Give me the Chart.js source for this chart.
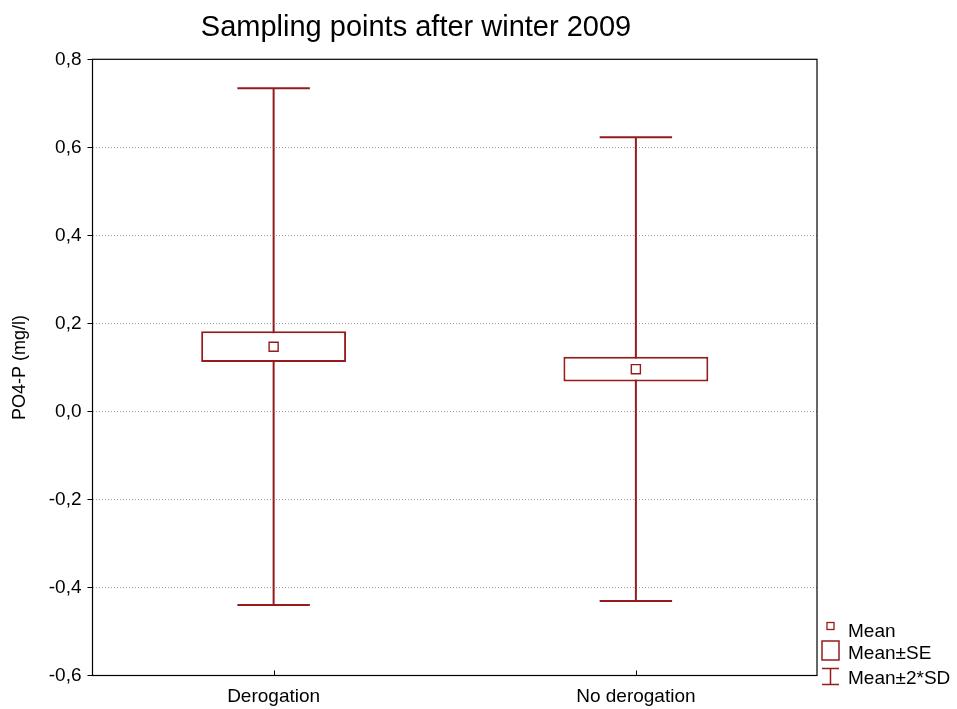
<!DOCTYPE html>
<html>
<head>
<meta charset="utf-8">
<title>Sampling points after winter 2009</title>
<script src="https://cdn.jsdelivr.net/npm/chart.js@4.4.1/dist/chart.umd.min.js"></script>
<style>
  html, body { margin: 0; padding: 0; background: #fff; }
  canvas { display: block; }
</style>
</head>
<body>
<canvas id="chart" width="957" height="709"></canvas>
<script>
// Groups and per-group statistics of PO4-P (mg/l)
const categories = ['Derogation', 'No derogation'];
const means = [0.147, 0.096];
const stdErr = [0.035, 0.028];
const twoSd = [0.587, 0.527];

// Value axis
const yMin = -0.6;
const yMax = 0.8;
const yStep = 0.2;

const titleText = 'Sampling points after winter 2009';
const yTitle = 'PO4-P (mg/l)';
const legendLabels = ['Mean', 'Mean\u00B1SE', 'Mean\u00B12*SD'];

const RED = '#951c1c';
const FONT = '"Liberation Sans", Arial, Helvetica, sans-serif';

// Mean ± SE boxes as floating bars
const seBoxes = categories.map((c, i) => [means[i] - stdErr[i], means[i] + stdErr[i]]);

const isEdge = v => Math.abs(v - yMin) < 1e-9 || Math.abs(v - yMax) < 1e-9;

// Whiskers (mean ± 2*SD) drawn underneath the boxes
const whiskers = {
  id: 'whiskers',
  beforeDatasetsDraw(chart) {
    const { ctx, scales: { x, y } } = chart;
    const boxes = chart.getDatasetMeta(0).data;
    ctx.save();
    ctx.strokeStyle = RED;
    ctx.lineWidth = 2;
    ctx.setLineDash([]);
    categories.forEach((c, i) => {
      const px = x.getPixelForValue(i);
      const top = y.getPixelForValue(means[i] + twoSd[i]);
      const bot = y.getPixelForValue(means[i] - twoSd[i]);
      const half = boxes[i].width / 4;
      ctx.beginPath();
      ctx.moveTo(px, top); ctx.lineTo(px, bot);
      ctx.moveTo(px - half, top); ctx.lineTo(px + half, top);
      ctx.moveTo(px - half, bot); ctx.lineTo(px + half, bot);
      ctx.stroke();
    });
    ctx.restore();
  }
};

// Plot frame, category ticks, title and legend
const decorations = {
  id: 'decorations',
  afterDraw(chart) {
    const { ctx, chartArea: a, scales: { x } } = chart;
    ctx.save();
    ctx.setLineDash([]);
    ctx.strokeStyle = '#000';
    ctx.lineWidth = 1.2;
    ctx.strokeRect(a.left, a.top, a.right - a.left, a.bottom - a.top);

    ctx.lineWidth = 1;
    categories.forEach((c, i) => {
      const px = Math.round(x.getPixelForValue(i)) + 0.5;
      ctx.beginPath();
      ctx.moveTo(px, a.bottom);
      ctx.lineTo(px, a.bottom - 5);
      ctx.stroke();
    });

    // Title
    ctx.fillStyle = '#000';
    ctx.font = '29px ' + FONT;
    ctx.textAlign = 'center';
    ctx.textBaseline = 'alphabetic';
    ctx.fillText(titleText, 416, 36);

    // Legend
    const lx = a.right + 13.5;      // symbol centre
    const tx = a.right + 31;        // text start
    ctx.font = '19px ' + FONT;
    ctx.textAlign = 'left';
    ctx.strokeStyle = RED;
    ctx.fillStyle = '#000';

    // Mean
    ctx.lineWidth = 1.3;
    ctx.strokeRect(lx - 3.5, a.bottom - 53, 7, 7);
    ctx.fillText(legendLabels[0], tx, a.bottom - 38.5);

    // Mean ± SE
    ctx.lineWidth = 1.5;
    ctx.strokeRect(lx - 8.5, a.bottom - 34.5, 17, 19);
    ctx.fillText(legendLabels[1], tx, a.bottom - 17);

    // Mean ± 2*SD
    ctx.beginPath();
    ctx.moveTo(lx - 8.5, a.bottom - 7); ctx.lineTo(lx + 8.5, a.bottom - 7);
    ctx.moveTo(lx, a.bottom - 7); ctx.lineTo(lx, a.bottom + 9);
    ctx.moveTo(lx - 8.5, a.bottom + 9); ctx.lineTo(lx + 8.5, a.bottom + 9);
    ctx.stroke();
    ctx.fillText(legendLabels[2], tx, a.bottom + 8.5);

    ctx.restore();
  }
};

new Chart(document.getElementById('chart'), {
  data: {
    labels: categories,
    datasets: [
      {
        type: 'bar',
        label: legendLabels[1],
        data: seBoxes,
        backgroundColor: '#ffffff',
        borderColor: RED,
        borderWidth: 2,
        borderSkipped: false,
        barPercentage: 0.4,
        categoryPercentage: 1,
        order: 2
      },
      {
        type: 'line',
        label: legendLabels[0],
        data: means,
        showLine: false,
        pointStyle: 'rect',
        pointRadius: 6.4,
        pointHoverRadius: 6.4,
        pointBorderWidth: 1.4,
        pointBorderColor: RED,
        pointBackgroundColor: '#ffffff',
        order: 1
      }
    ]
  },
  options: {
    responsive: false,
    devicePixelRatio: 1,
    animation: false,
    events: [],
    layout: { padding: { top: 59.3, right: 140, bottom: 0, left: 0 } },
    plugins: {
      legend: { display: false },
      tooltip: { enabled: false },
      title: { display: false }
    },
    scales: {
      x: {
        type: 'category',
        offset: true,
        grid: { display: false, drawTicks: false },
        border: { display: false },
        ticks: {
          color: '#000',
          font: { family: FONT, size: 19 },
          padding: 10,
          maxRotation: 0,
          autoSkip: false
        },
        afterFit(scale) { scale.height = 33.5; }
      },
      y: {
        min: yMin,
        max: yMax,
        border: { display: false, dash: [1, 2] },
        grid: {
          color: ctx => (ctx.tick && isEdge(ctx.tick.value)) ? 'rgba(0,0,0,0)' : '#a0a0a0',
          lineWidth: 1,
          drawTicks: true,
          tickLength: 5,
          tickColor: '#000',
          tickBorderDash: []
        },
        ticks: {
          stepSize: yStep,
          color: '#000',
          padding: 6,
          font: { family: FONT, size: 19 },
          callback: v => Number(v).toFixed(1).replace('.', ',')
        },
        title: {
          display: true,
          text: yTitle,
          color: '#000',
          font: { family: FONT, size: 18 },
          padding: { top: 9, bottom: 0 }
        },
        afterFit(scale) { scale.width = 92.5; }
      }
    }
  },
  plugins: [whiskers, decorations]
});
</script>
</body>
</html>
